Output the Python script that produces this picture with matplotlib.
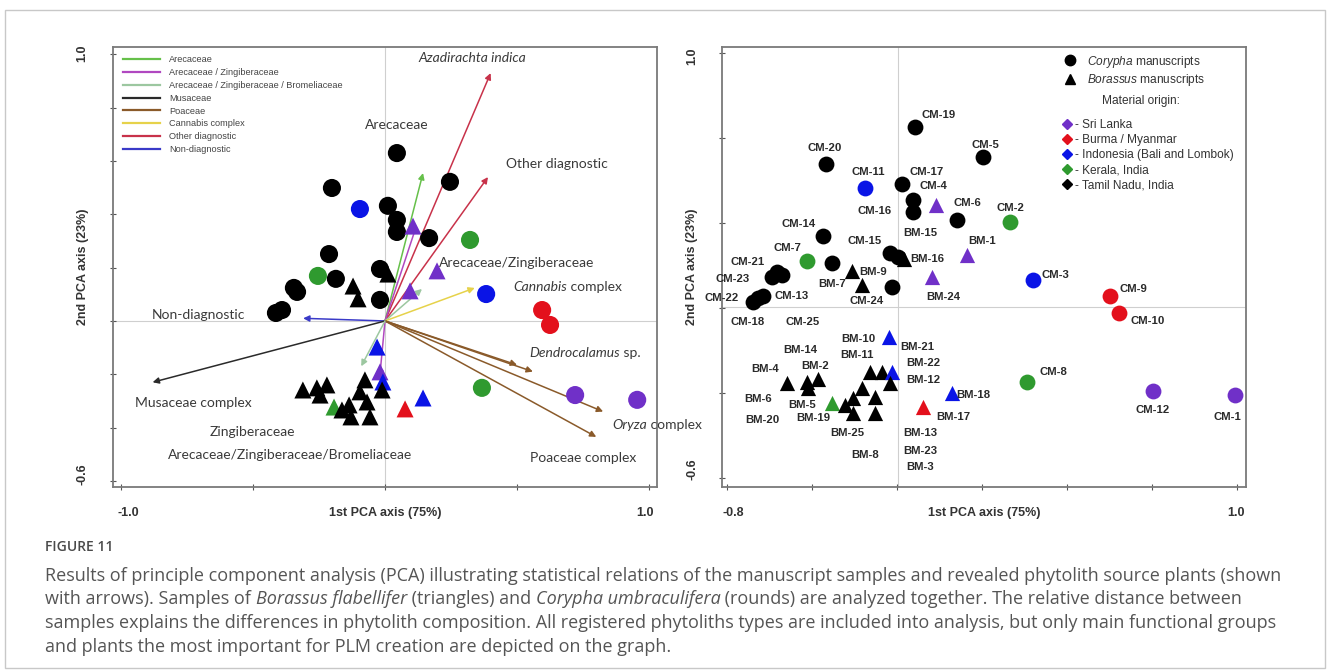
import matplotlib
matplotlib.use("Agg")
import matplotlib.pyplot as plt
from matplotlib.lines import Line2D
from matplotlib.patches import Rectangle
from matplotlib.transforms import ScaledTranslation

# ---------------- LEFT PANEL DATA (PCA biplot) ----------------
circ_x = [0.045, -0.201, 0.011, 0.045, 0.045, 0.246, 0.167, -0.212, -0.186, -0.019, -0.019,
          -0.345, -0.333, -0.390, -0.413,
          -0.095, 0.383,
          0.322, -0.254, 0.367,
          0.595, 0.625,
          0.720, 0.955]
circ_y = [0.630, 0.499, 0.432, 0.379, 0.334, 0.522, 0.311, 0.251, 0.158, 0.195, 0.079,
          0.124, 0.109, 0.041, 0.030,
          0.420, 0.101,
          0.304, 0.169, -0.251,
          0.041, -0.015,
          -0.278, -0.296]
circ_c = ['k'] * 15 + ['blue'] * 2 + ['green'] * 3 + ['red'] * 2 + ['purple'] * 2

tri_x = [0.106, 0.197, 0.095, -0.019,
         -0.121, -0.102, 0.011,
         -0.030, -0.008, 0.144,
         0.076, -0.193,
         -0.311, -0.258, -0.220, -0.246, -0.136, -0.095, -0.068, -0.129, -0.057, -0.076, -0.011, -0.163]
tri_y = [0.356, 0.188, 0.113, -0.191,
         0.131, 0.083, 0.176,
         -0.098, -0.229, -0.289,
         -0.330, -0.323,
         -0.259, -0.251, -0.240, -0.278, -0.315, -0.266, -0.304, -0.360, -0.360, -0.221, -0.259, -0.334]
tri_c = ['purple'] * 4 + ['k'] * 3 + ['blue'] * 3 + ['red', 'green'] + ['k'] * 12

arrow_x = [0.144, 0.40, 0.39, 0.12, 0.14, -0.02, 0.34, -0.31, -0.88, 0.50, 0.56, 0.826, 0.80, -0.09]
arrow_y = [0.555, 0.93, 0.54, 0.36, 0.12, -0.21, 0.124, 0.01, -0.23, -0.165, -0.19, -0.34, -0.435, -0.17]
arrow_group = ['Arecaceae', 'Other diagnostic', 'Other diagnostic', 'Arecaceae / Zingiberaceae',
               'Arecaceae / Zingiberaceae / Bromeliaceae', 'Arecaceae / Zingiberaceae',
               'Cannabis complex', 'Non-diagnostic', 'Musaceae', 'Poaceae', 'Poaceae', 'Poaceae',
               'Poaceae', 'Arecaceae / Zingiberaceae / Bromeliaceae']

legend_groups = ['Arecaceae', 'Arecaceae / Zingiberaceae', 'Arecaceae / Zingiberaceae / Bromeliaceae',
                 'Musaceae', 'Poaceae', 'Cannabis complex', 'Other diagnostic', 'Non-diagnostic']

# arrow labels: italic part + plain part, with their centre positions
arrow_label_it = ['', 'Azadirachta indica', '', '', '', '', 'Cannabis', '', '', 'Dendrocalamus',
                  'Oryza', '']
arrow_label_rest = ['Arecaceae', '', 'Other diagnostic', 'Arecaceae/Zingiberaceae',
                    'Arecaceae/Zingiberaceae/Bromeliaceae', 'Zingiberaceae', ' complex',
                    'Non-diagnostic', 'Musaceae complex', ' sp.', ' complex', 'Poaceae complex']
arrow_label_x = [0.045, 0.33, 0.652, 0.50, -0.36, -0.504, 0.69, -0.708, -0.727, 0.758, 1.03, 0.75]
arrow_label_y = [0.735, 0.985, 0.589, 0.218, -0.503, -0.417, 0.128, 0.023, -0.308, -0.12, -0.39, -0.514]

# ---------------- RIGHT PANEL DATA ----------------
smp_x = [-0.136, 0.104, -0.451, -0.313, -0.182, -0.143, -0.143, -0.062, 0.012, 0.199, -0.461,
         -0.225, -0.196, -0.175, 0.047, -0.518, -0.429, -0.359, -0.323, -0.218, -0.076,
         -0.624, -0.641, -0.606, -0.708, -0.691, -0.673, 0.280, 0.552, 0.584, 0.259, 0.704, 0.993,
         -0.228, -0.295, -0.253, -0.218, -0.225, -0.588, -0.518, -0.479, -0.514, -0.429, -0.323,
         -0.355, -0.383, -0.355, -0.278, -0.278, -0.006, -0.108]
smp_y = [0.721, 0.608, 0.582, 0.492, 0.507, 0.447, 0.401, 0.428, 0.371, 0.364, 0.311,
         0.247, 0.232, 0.224, 0.239, 0.217, 0.209, 0.179, 0.127, 0.119, 0.157,
         0.175, 0.157, 0.164, 0.063, 0.078, 0.085, 0.145, 0.085, 0.021, -0.239, -0.273, -0.288,
         -0.069, -0.201, -0.201, -0.201, -0.242, -0.242, -0.239, -0.227, -0.261, -0.318, -0.261,
         -0.299, -0.325, -0.355, -0.295, -0.355, -0.280, -0.333]
smp_shape = ['o'] * 7 + ['^'] + ['o'] * 5 + ['^', '^'] + ['o', 'o'] + ['^', '^'] + ['o'] + ['^'] + \
            ['o'] * 12 + ['^'] * 18
smp_c = ['k', 'k', 'k', 'blue', 'k', 'k', 'k', 'purple', 'k', 'green', 'k',
         'k', 'k', 'k', 'purple', 'green', 'k', 'k', 'k', 'k', 'purple',
         'k', 'k', 'k', 'k', 'k', 'k', 'blue', 'red', 'red', 'green', 'purple', 'purple',
         'blue', 'k', 'k', 'blue', 'k', 'k', 'k', 'k', 'k', 'green', 'k',
         'k', 'k', 'k', 'k', 'k', 'blue', 'red']

smp_labels = ['CM-19', 'CM-20', 'CM-5', 'CM-11', 'CM-17', 'CM-4', 'CM-16', 'CM-6', 'CM-2', 'BM-15',
              'BM-1', 'CM-14', 'CM-15', 'CM-7', 'BM-16', 'CM-21', 'BM-9', 'CM-23', 'BM-7', 'CM-24',
              'BM-24', 'CM-22', 'CM-13', 'CM-18', 'CM-25', 'BM-10', 'BM-14', 'BM-11', 'BM-21',
              'BM-22', 'BM-4', 'BM-2', 'BM-12', 'BM-18', 'BM-6', 'BM-5', 'BM-17', 'BM-20', 'BM-19',
              'BM-25', 'BM-13', 'BM-23', 'BM-8', 'BM-3', 'CM-3', 'CM-9', 'CM-10', 'CM-8', 'CM-12',
              'CM-1']
lab_x = [-0.055, -0.454, 0.111, -0.302, -0.094, -0.073, -0.278, 0.047, 0.199, -0.119,
         0.100, -0.549, -0.313, -0.588, -0.094, -0.726, -0.285, -0.782, -0.429, -0.306,
         -0.038, -0.818, -0.571, -0.729, -0.535, -0.338, -0.542, -0.341, -0.129,
         -0.108, -0.666, -0.489, -0.108, 0.068, -0.691, -0.535, -0.002, -0.676, -0.496,
         -0.376, -0.119, -0.119, -0.313, -0.119, 0.358, 0.633, 0.686, 0.351, 0.704, 0.965]
lab_y = [0.767, 0.642, 0.654, 0.552, 0.552, 0.499, 0.405, 0.435, 0.416, 0.322,
         0.292, 0.356, 0.292, 0.266, 0.224, 0.213, 0.175, 0.149, 0.130, 0.066,
         0.081, 0.078, 0.085, -0.013, -0.013, -0.077, -0.118, -0.137, -0.107,
         -0.167, -0.190, -0.178, -0.231, -0.288, -0.303, -0.325, -0.370, -0.382, -0.374,
         -0.431, -0.431, -0.498, -0.514, -0.559, 0.164, 0.111, -0.009, -0.201, -0.344, -0.370]

origin_names = ['- Sri Lanka', '- Burma / Myanmar', '- Indonesia (Bali and Lombok)',
                '- Kerala, India', '- Tamil Nadu, India']
origin_keys = ['purple', 'red', 'blue', 'green', 'k']

# ---------------- STYLES ----------------
COL = {'k': '#000000', 'blue': '#0a14e6', 'green': '#2f9a2f', 'red': '#e3101c', 'purple': '#7030c8'}
ARR = {'Arecaceae': '#66c04a', 'Arecaceae / Zingiberaceae': '#b048c0',
       'Arecaceae / Zingiberaceae / Bromeliaceae': '#9cc7a0', 'Musaceae': '#2a2a2a',
       'Poaceae': '#8a5a2a', 'Cannabis complex': '#e6d24a', 'Other diagnostic': '#c8324a',
       'Non-diagnostic': '#3a3ac8'}
LBL = '#3a3a3a'

plt.rcParams['font.family'] = ['Liberation Sans', 'DejaVu Sans']
plt.rcParams['mathtext.fontset'] = 'custom'
plt.rcParams['mathtext.it'] = 'Liberation Sans:italic'
plt.rcParams['mathtext.rm'] = 'Liberation Sans'

W, H = 1330, 672
fig = plt.figure(figsize=(13.3, 6.72), dpi=100)
renderer = fig.canvas.get_renderer()
fig.patches.append(Rectangle((5 / W, 4 / H), 1320 / W, 658 / H, transform=fig.transFigure,
                             fill=False, ec='#c8c8c8', lw=1.0))


def rich(host, x, y, pieces, transform, center=False, **kw):
    """Draw a run of text pieces (string, style) one after another on one baseline."""
    pieces = [p for p in pieces if p[0]]
    first = host.text(x, y, pieces[0][0], style=pieces[0][1], transform=transform,
                      ha='left', va='center', **kw)
    arts = [first]
    prev = first
    for s, st in pieces[1:]:
        prev = host.annotate(s, xy=(1, 0), xycoords=prev, ha='left', va='bottom', style=st, **kw)
        arts.append(prev)
    if center:
        fig.canvas.draw()
        x0 = arts[0].get_window_extent(renderer).x0
        x1 = arts[-1].get_window_extent(renderer).x1
        first.set_transform(transform + ScaledTranslation(-(x1 - x0) / 2 / fig.dpi, 0,
                                                          fig.dpi_scale_trans))
    return arts


def px_axes(x0, y0, x1, y1):
    return fig.add_axes([x0 / W, 1 - y1 / H, (x1 - x0) / W, (y1 - y0) / H])


def style_axes(ax):
    for s in ax.spines.values():
        s.set_color('#7a7a7a')
        s.set_linewidth(1.3)
    ax.tick_params(direction='inout', length=5, width=0.8, color='#555555', labelsize=0,
                   labelbottom=False, labelleft=False)


def end_labels(ax, xl, xr, yt, yb, xfl, xfr, yft, yfb):
    kw = dict(fontsize=9, fontweight='bold', color='#333333', transform=ax.transAxes)
    ax.text(0.5, -0.045, '1st PCA axis (75%)', ha='center', va='top', **kw)
    ax.text(-0.045, 0.5, '2nd PCA axis (23%)', ha='right', va='center', rotation=90, **kw)
    ax.text(xfl, -0.045, xl, ha='center', va='top', **kw)
    ax.text(xfr, -0.045, xr, ha='center', va='top', **kw)
    ax.text(-0.045, yft, yt, ha='right', va='center', rotation=90, **kw)
    ax.text(-0.045, yfb, yb, ha='right', va='center', rotation=90, **kw)


# ---------------- LEFT ----------------
axL = px_axes(113, 47, 657, 487)
axL.set_xlim(-1.03, 1.03)
axL.set_ylim(-0.623, 1.028)
style_axes(axL)
axL.set_xticks([-1.0, -0.5, 0.0, 0.5, 1.0])
axL.set_yticks([-0.6, -0.4, -0.2, 0.0, 0.2, 0.4, 0.6, 0.8, 1.0])
axL.axhline(0, color='#cfcfcf', lw=0.8, zorder=0)
axL.axvline(0, color='#cfcfcf', lw=0.8, zorder=0)

for tx, ty, g in zip(arrow_x, arrow_y, arrow_group):
    axL.annotate('', xy=(tx, ty), xytext=(0, 0),
                 arrowprops=dict(arrowstyle='-|>', color=ARR[g], lw=1.1, mutation_scale=9,
                                 shrinkA=0, shrinkB=0), zorder=2)

axL.scatter(circ_x, circ_y, s=170, c=[COL[c] for c in circ_c], marker='o', zorder=3, linewidths=0)
axL.scatter(tri_x, tri_y, s=150, c=[COL[c] for c in tri_c], marker='^', zorder=3, linewidths=0)

for it, rest, x, y in zip(arrow_label_it, arrow_label_rest, arrow_label_x, arrow_label_y):
    rich(axL, x, y, [(it, 'italic'), (rest, 'normal')], axL.transData, center=True,
         fontsize=10, color=LBL, family='Lato', zorder=4)

hL = [Line2D([0], [0], color=ARR[g], lw=1.6) for g in legend_groups]
legL = axL.legend(hL, legend_groups, loc='upper left', bbox_to_anchor=(0.005, 0.998), frameon=False,
                  fontsize=6.6, handlelength=4.0, handletextpad=1.0, labelspacing=0.42,
                  borderpad=0.3)
for t in legL.get_texts():
    t.set_color('#444444')

end_labels(axL, '-1.0', '1.0', '1.0', '-0.6', 0.028, 0.978, 0.985, 0.03)

# ---------------- RIGHT ----------------
axR = px_axes(722, 47, 1246, 487)
axR.set_xlim(-0.818, 1.032)
axR.set_ylim(-0.634, 1.023)
style_axes(axR)
axR.set_xticks([-0.8, -0.5, -0.2, 0.1, 0.4, 0.7, 1.0])
axR.set_yticks([-0.6, -0.28, 0.04, 0.36, 0.68, 1.0])
axR.axhline(0.044, color='#cfcfcf', lw=0.8, zorder=0)
axR.axvline(-0.196, color='#cfcfcf', lw=0.8, zorder=0)

for x, y, m, c in zip(smp_x, smp_y, smp_shape, smp_c):
    axR.scatter([x], [y], s=130 if m == 'o' else 120, c=COL[c], marker=m, zorder=3, linewidths=0)

for t, x, y in zip(smp_labels, lab_x, lab_y):
    axR.text(x, y, t, fontsize=8.2, fontweight='bold', color='#2a2a2a', ha='center', va='center',
             zorder=4)

h1 = [Line2D([0], [0], ls='none', marker='o', color='k', ms=7.5),
      Line2D([0], [0], ls='none', marker='^', color='k', ms=7.5)]
leg1 = axR.legend(h1, [r'$\it{Corypha}$ manuscripts', r'$\it{Borassus}$ manuscripts'],
                  loc='upper left', bbox_to_anchor=(0.625, 1.004), frameon=False, fontsize=8.6,
                  handletextpad=0.4, labelspacing=0.22, borderpad=0.2)
for t in leg1.get_texts():
    t.set_color('#333333')
axR.add_artist(leg1)
axR.text(0.80, 0.878, 'Material origin:', transform=axR.transAxes, ha='center', va='center',
         fontsize=8.6, color='#333333')
h2 = [Line2D([0], [0], ls='none', marker='D', color=COL[k], ms=5.5) for k in origin_keys]
leg2 = axR.legend(h2, origin_names, loc='upper left', bbox_to_anchor=(0.628, 0.855), frameon=False,
                  fontsize=8.6, handletextpad=0.1, labelspacing=0.25, borderpad=0.2,
                  handlelength=1.2)
for t in leg2.get_texts():
    t.set_color('#333333')

end_labels(axR, '-0.8', '1.0', '1.0', '-0.6', 0.021, 0.98, 0.98, 0.04)

# ---------------- CAPTION ----------------
capax = fig.add_axes([0, 0, 1, 1])
capax.axis('off')
capax.set_zorder(-1)
cap_kw = dict(fontsize=13.0, color='#555555', family='Open Sans')
capax.text(45 / W, 1 - 547 / H, 'FIGURE 11', fontsize=10, color='#4a4a4a', family='Open Sans',
           va='center', ha='left', fontweight='semibold', transform=capax.transAxes)
cap_lines = [
    [('Results of principle component analysis (PCA) illustrating statistical relations of the '
      'manuscript samples and revealed phytolith source plants (shown', 'normal')],
    [('with arrows). Samples of ', 'normal'), ('Borassus flabellifer', 'italic'),
     (' (triangles) and ', 'normal'), ('Corypha umbraculifera', 'italic'),
     (' (rounds) are analyzed together. The relative distance between', 'normal')],
    [('samples explains the differences in phytolith composition. All registered phytoliths types '
      'are included into analysis, but only main functional groups', 'normal')],
    [('and plants the most important for PLM creation are depicted on the graph.', 'normal')],
]
for i, pieces in enumerate(cap_lines):
    rich(capax, 45 / W, 1 - (576 + 23.5 * i) / H, pieces, capax.transAxes, **cap_kw)

fig.savefig('out.png', dpi=100)
